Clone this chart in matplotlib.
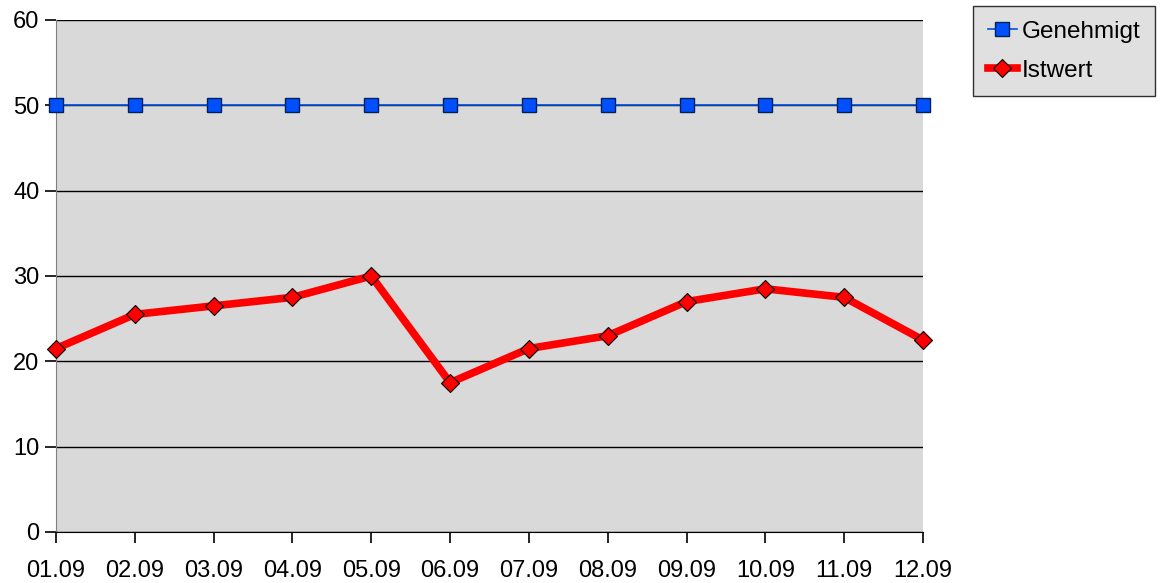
import matplotlib
matplotlib.use("Agg")
import matplotlib.pyplot as plt

# data
tage = ['01.09', '02.09', '03.09', '04.09', '05.09', '06.09',
        '07.09', '08.09', '09.09', '10.09', '11.09', '12.09']
genehmigt = [50, 50, 50, 50, 50, 50, 50, 50, 50, 50, 50, 50]
istwert = [21.5, 25.5, 26.5, 27.5, 30, 17.5, 21.5, 23, 27, 28.5, 27.5, 22.5]

plt.rcParams['font.family'] = ['Liberation Sans', 'DejaVu Sans']

fig = plt.figure(figsize=(11.6, 5.83), dpi=100)
ax = fig.add_axes([56/1160, 51/583, (923-56)/1160, (532-20)/583])
ax.set_facecolor('#d9d9d9')

x = list(range(len(tage)))
ax.plot(x, genehmigt, color='#0050e0', lw=1.2, marker='s', ms=10,
        mfc='#0050ff', mec='#00205a', mew=1, label='Genehmigt', zorder=4, clip_on=False)
ax.plot(x, istwert, color='#ff0000', lw=5.5, marker='D', ms=9,
        mfc='#ff0000', mec='#000000', mew=0.8, label='Istwert', zorder=5, clip_on=False)

ax.set_xlim(0, 11)
ax.set_ylim(0, 60)
ax.set_yticks(range(0, 61, 10))
ax.set_xticks(x)
ax.set_xticklabels(tage)
ax.yaxis.grid(True, color='black', lw=1)
ax.set_axisbelow(True)
for s in ['top', 'right']:
    ax.spines[s].set_visible(False)
ax.spines['left'].set_color('#808080')
ax.spines['bottom'].set_color('black')
ax.tick_params(axis='both', direction='out', length=8, width=1.2, labelsize=17)
ax.tick_params(axis='x', pad=12)
ax.tick_params(axis='y', pad=4)

leg = fig.legend(loc='upper left', bbox_to_anchor=(973/1160, 1 - 6/583),
                 fontsize=17.5, frameon=True, fancybox=False,
                 handlelength=1.2, handletextpad=0.2, borderpad=0.6,
                 labelspacing=0.7, borderaxespad=0)
leg.get_frame().set_facecolor('#d9d9d9')
leg.get_frame().set_edgecolor('black')
leg.get_frame().set_linewidth(1)

plt.savefig('out.png', dpi=100)
